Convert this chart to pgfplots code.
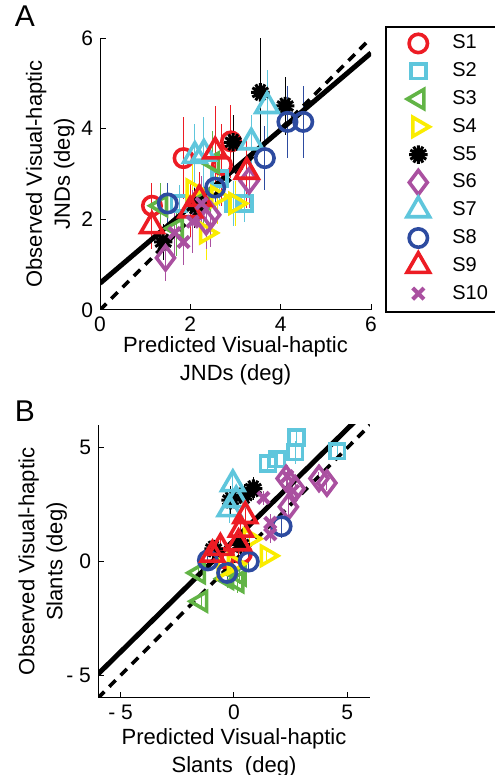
\documentclass[border=0pt]{standalone}
\usepackage{fontspec}
\setmainfont{Liberation Sans}
\usepackage{pgfplots}
\pgfplotsset{compat=1.18}

\definecolor{sred}{RGB}{237,28,36}
\definecolor{scyan}{RGB}{95,198,220}
\definecolor{sgreen}{RGB}{98,180,70}
\definecolor{syellow}{RGB}{250,236,0}
\definecolor{smag}{RGB}{170,80,160}
\definecolor{sblue}{RGB}{45,75,160}

% matlab-ish asterisk: thick spokes
\pgfdeclareplotmark{blob}{%
  \foreach \a in {0,30,...,150}{%
    \pgfpathmoveto{\pgfpointpolar{\a}{\pgfplotmarksize}}%
    \pgfpathlineto{\pgfpointpolar{\a+180}{\pgfplotmarksize}}}%
  \pgfusepathqstroke}

\pgfplotsset{
  subj/.style={only marks,
    legend image code/.code={\path[draw=none] (0pt,-6.95pt) rectangle (32pt,6.95pt);
      \draw[##1, only marks, mark repeat=2, mark phase=2] plot coordinates {(0pt,0pt) (16pt,0pt) (32pt,0pt)};},
    error bars/y dir=both, error bars/y explicit, error bars/error mark=none,
    error bars/error bar style={line width=0.5pt}},
  mk/.style={mark options={solid, line width=1.8pt, fill=none, #1}},
  panel/.style={scale only axis, axis x line*=bottom, axis y line*=left,
    axis line style={-, line width=0.5pt}, tick align=inside, major tick length=3pt,
    tick style={line width=0.5pt, black},
    /pgf/number format/assume math mode=true,
    tick label style={font=\fontsize{10.5}{12}\selectfont},
    label style={font=\fontsize{11}{14}\selectfont, align=center}},
}

\begin{document}
\begin{tikzpicture}
\useasboundingbox (0,0) rectangle (247pt,387.5pt);

% ---------------- panel A: JNDs
\begin{axis}[panel,
  at={(50pt,232.5pt)}, anchor=south west, width=135.5pt, height=136pt,
  xmin=0, xmax=6, ymin=0, ymax=6,
  xtick={0,2,4,6}, ytick={0,2,4,6},
  xlabel={Predicted Visual-haptic\\JNDs (deg)},
  ylabel={Observed Visual-haptic\\JNDs (deg)},
  xlabel style={at={(axis description cs:0.5,-0.095)}, anchor=north, inner sep=0pt},
  ylabel style={at={(axis description cs:-0.093,0.5)}, anchor=south, inner sep=0pt},
  legend cell align=left,
  legend style={at={(1.055,1.04)}, anchor=north west, draw=none,
    inner xsep=0pt, inner ysep=1pt, row sep=0pt, column sep=0pt,
    font=\fontsize{10}{11}\selectfont,
    nodes={inner xsep=1pt, inner ysep=0pt}},
]
\addplot[subj, mark=o, mk={}, color=sred, mark size=4.6pt] table[y error index=2]{
x y e
1.15 2.30 0.50
1.85 3.35 0.90
2.90 3.72 0.80
2.70 3.20 0.90
};
\addlegendentry{S1}
\addplot[subj, mark=square, mk={}, color=scyan, mark size=3.7pt] table[y error index=2]{
x y e
1.75 2.35 0.40
2.95 2.35 0.50
3.20 2.35 0.40
2.65 2.90 0.60
};
\addlegendentry{S2}
\addplot[subj, mark=triangle, mk={rotate=90}, color=sgreen, mark size=5.5pt] table[y error index=2]{
x y e
1.35 2.30 0.50
1.70 1.80 0.60
2.50 3.25 0.70
2.30 2.45 0.60
};
\addlegendentry{S3}
\addplot[subj, mark=triangle, mk={rotate=-90}, color=syellow, mark size=5.5pt] table[y error index=2]{
x y e
2.35 1.70 0.60
2.05 2.65 0.70
3.00 2.35 0.50
2.60 2.50 0.60
};
\addlegendentry{S4}
\addplot[subj, mark=blob, mk={line width=1.5pt}, color=black, mark size=4.6pt] table[y error index=2]{
x y e
1.40 1.50 0.40
2.10 2.30 0.50
2.95 3.70 0.60
3.55 4.80 1.20
4.10 4.50 0.65
};
\addlegendentry{S5}
\addplot[subj, mark=diamond, mk={}, color=smag, mark size=6pt] table[y error index=2]{
x y e
1.45 1.15 0.50
2.35 1.95 0.60
2.45 2.10 0.70
3.30 2.85 0.60
};
\addlegendentry{S6}
\addplot[subj, mark=triangle, mk={}, color=scyan, mark size=6.5pt] table[y error index=2]{
x y e
2.30 3.45 0.80
2.10 3.40 0.70
3.35 3.70 0.60
3.70 4.50 0.80
};
\addlegendentry{S7}
\addplot[subj, mark=o, mk={}, color=sblue, mark size=4.6pt] table[y error index=2]{
x y e
1.50 2.35 0.45
2.55 2.70 0.50
3.65 3.35 0.70
4.15 4.15 0.80
4.50 4.15 0.80
};
\addlegendentry{S8}
\addplot[subj, mark=triangle, mk={}, color=sred, mark size=6.5pt] table[y error index=2]{
x y e
1.15 1.85 0.50
2.00 2.20 0.60
2.55 3.50 1.00
3.25 3.05 0.80
2.20 2.45 0.60
};
\addlegendentry{S9}
\addplot[subj, mark=x, mk={line width=2pt}, color=smag, mark size=4pt] table[y error index=2]{
x y e
1.65 1.70 0.50
1.85 1.50 0.50
2.25 2.35 0.60
2.05 1.95 0.70
};
\addlegendentry{S10}
\addplot[black, line width=1.8pt, dash pattern=on 4.5pt off 3.5pt] coordinates {(0,0) (6,6)};
\addplot[black, line width=2.5pt] coordinates {(0,0.59) (6,5.67)};
\end{axis}

% legend frame (runs off the right edge, as in the original)
\draw[line width=1.2pt] (193pt,231.5pt) rectangle (262pt,374pt);

% ---------------- panel B: slants
\begin{axis}[panel,
  at={(49pt,38.5pt)}, anchor=south west, width=136pt, height=136.5pt,
  xmin=-6, xmax=6, ymin=-6, ymax=6,
  xtick={-5,0,5}, ytick={-5,0,5},
  xticklabels={{- 5},0,5}, yticklabels={{- 5},0,5},
  xlabel={Predicted Visual-haptic\\Slants\ \ (deg)},
  ylabel={Observed Visual-haptic\\Slants (deg)},
  xlabel style={at={(axis description cs:0.5,-0.11)}, anchor=north, inner sep=0pt},
  ylabel style={at={(axis description cs:-0.113,0.5)}, anchor=south, inner sep=0pt},
]
\addplot[subj, mark=o, mk={}, color=sred, mark size=4.6pt] table[y error index=2]{
x y e
-0.45 0.15 0.40
0.35 0.35 0.50
};
\addplot[subj, mark=square, mk={}, color=scyan, mark size=3.7pt] table[y error index=2]{
x y e
1.50 4.30 0.30
1.90 4.50 0.40
2.70 4.80 0.50
2.75 5.45 0.40
4.55 4.85 0.30
};
\addplot[subj, mark=triangle, mk={rotate=90}, color=sgreen, mark size=5.5pt] table[y error index=2]{
x y e
-1.45 -1.75 0.40
-1.55 -0.50 0.30
-0.30 -0.75 0.40
0.15 -0.90 0.50
0.25 -0.60 0.40
};
\addplot[subj, mark=triangle, mk={rotate=-90}, color=syellow, mark size=5.5pt] table[y error index=2]{
x y e
1.45 0.25 0.30
0.70 1.00 0.50
-0.45 -0.30 0.40
0.00 -0.10 0.40
};
\addplot[subj, mark=blob, mk={line width=1.5pt}, color=black, mark size=4.6pt] table[y error index=2]{
x y e
0.85 3.20 0.50
-0.15 2.70 0.60
0.30 0.75 0.60
-0.90 0.55 0.40
0.45 2.90 0.50
};
\addplot[subj, mark=diamond, mk={}, color=smag, mark size=6pt] table[y error index=2]{
x y e
2.30 3.65 0.30
3.75 3.65 0.30
4.10 3.45 0.30
2.40 2.40 0.40
2.70 3.20 0.50
};
\addplot[subj, mark=triangle, mk={}, color=scyan, mark size=6.5pt] table[y error index=2]{
x y e
-0.05 3.40 0.60
-0.20 2.30 0.60
0.10 2.70 0.50
};
\addplot[subj, mark=o, mk={}, color=sblue, mark size=4.6pt] table[y error index=2]{
x y e
-1.15 0.05 0.30
-0.30 -0.50 0.40
0.65 0.00 0.40
2.10 1.55 0.50
};
\addplot[subj, mark=triangle, mk={}, color=sred, mark size=6.5pt] table[y error index=2]{
x y e
0.50 2.00 0.80
0.30 1.40 0.60
-0.60 0.60 0.50
0.20 0.80 0.60
-0.95 0.30 0.40
};
\addplot[subj, mark=x, mk={line width=2pt}, color=smag, mark size=4pt] table[y error index=2]{
x y e
1.30 2.80 0.30
1.60 1.70 0.40
1.60 1.20 0.40
2.35 3.75 0.50
2.60 3.10 0.40
};
\addplot[black, line width=1.8pt, dash pattern=on 4.5pt off 3.5pt] coordinates {(-6,-6) (6,6)};
\addplot[black, line width=2.5pt] coordinates {(-6,-4.95) (6,6.81)};
\end{axis}

\node[font=\fontsize{15}{18}\selectfont] at (12.5pt,379.5pt) {A};
\node[font=\fontsize{15}{18}\selectfont] at (12.5pt,182pt) {B};
\end{tikzpicture}
\end{document}
